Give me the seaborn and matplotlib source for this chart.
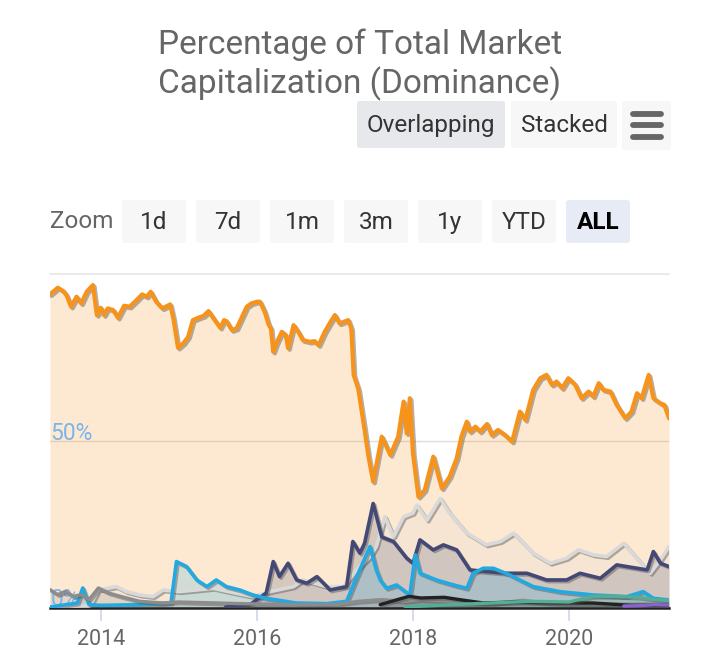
import matplotlib
matplotlib.use("Agg")
import matplotlib.pyplot as plt
import matplotlib.patheffects as pe
from matplotlib.patches import FancyBboxPatch
import seaborn as sns
import pandas as pd

# ---------------- data (decimal year, % dominance) ----------------
btc_year = [2013.35, 2013.45, 2013.52, 2013.56, 2013.62, 2013.69, 2013.75, 2013.82, 2013.90, 2013.95,
            2014.00, 2014.04, 2014.09, 2014.16, 2014.22, 2014.30, 2014.37, 2014.46, 2014.53, 2014.59,
            2014.64, 2014.71, 2014.79, 2014.89, 2014.93, 2014.99, 2015.06, 2015.12, 2015.18, 2015.25,
            2015.32, 2015.38, 2015.46, 2015.53, 2015.58, 2015.61, 2015.68, 2015.74, 2015.80, 2015.87,
            2015.93, 2016.00, 2016.04, 2016.10, 2016.15, 2016.18, 2016.21, 2016.25, 2016.32, 2016.37,
            2016.40, 2016.47, 2016.53, 2016.59, 2016.68, 2016.74, 2016.79, 2016.87, 2016.95, 2017.00,
            2017.06, 2017.17, 2017.21, 2017.24, 2017.30, 2017.38, 2017.43, 2017.49, 2017.60, 2017.71,
            2017.81, 2017.88, 2017.92, 2017.96, 2018.00, 2018.07, 2018.15, 2018.26, 2018.37, 2018.47,
            2018.56, 2018.62, 2018.69, 2018.73, 2018.80, 2018.86, 2018.95, 2019.01, 2019.09, 2019.18,
            2019.27, 2019.37, 2019.44, 2019.54, 2019.63, 2019.71, 2019.78, 2019.84, 2019.91, 2019.99,
            2020.08, 2020.16, 2020.25, 2020.31, 2020.38, 2020.44, 2020.53, 2020.61, 2020.72, 2020.80,
            2020.87, 2020.93, 2021.02, 2021.08, 2021.17, 2021.22, 2021.28]
btc_pct = [93.9, 95.9, 94.9, 93.7, 90.2, 93.2, 91.2, 94.7, 96.7, 87.7,
           89.9, 87.7, 89.7, 89.2, 86.9, 90.5, 90.2, 92.2, 93.9, 93.2,
           94.7, 91.7, 89.7, 90.9, 86.7, 77.9, 79.3, 81.2, 86.2, 86.9,
           87.5, 88.9, 86.2, 83.9, 86.2, 85.9, 83.2, 83.7, 86.7, 90.2,
           91.2, 91.7, 91.7, 88.7, 84.9, 83.7, 76.7, 79.3, 82.7, 81.7,
           77.8, 84.7, 82.7, 80.2, 79.7, 79.9, 78.7, 82.7, 85.9, 87.7,
           85.2, 86.2, 83.7, 69.8, 65.5, 53.3, 45.3, 37.8, 51.3, 45.8,
           51.3, 61.8, 52.3, 62.8, 46.3, 33.3, 35.3, 45.3, 35.8, 39.3,
           44.8, 51.3, 55.8, 52.8, 54.3, 52.8, 55.1, 51.8, 53.3, 51.8,
           49.8, 58.8, 56.3, 65.3, 68.8, 69.8, 66.8, 67.8, 65.8, 68.8,
           66.8, 62.8, 64.8, 63.3, 67.3, 65.3, 64.8, 60.8, 56.8, 58.8,
           64.3, 62.8, 69.8, 62.8, 61.3, 60.8, 56.8]

others_year = [2013.35, 2013.86, 2013.97, 2014.20, 2014.33, 2014.50, 2014.67, 2014.80, 2015.01, 2015.23,
               2015.44, 2015.70, 2015.95, 2016.17, 2016.47, 2016.59, 2016.89, 2017.11, 2017.28, 2017.45,
               2017.53, 2017.64, 2017.75, 2017.88, 2018.00, 2018.05, 2018.18, 2018.35, 2018.47, 2018.69,
               2018.94, 2019.12, 2019.29, 2019.54, 2019.76, 2019.97, 2020.12, 2020.31, 2020.48, 2020.70,
               2020.87, 2021.04, 2021.17, 2021.28]
others_pct = [0.5, 0.6, 5.4, 6.4, 4.9, 3.9, 3.4, 5.4, 4.9, 5.4,
              5.9, 4.6, 3.4, 4.9, 6.4, 8.4, 6.4, 6.4, 11.4, 15.4,
              18.4, 27.3, 21.3, 27.3, 28.4, 30.8, 26.3, 32.8, 28.4, 22.4,
              18.9, 19.9, 22.4, 16.4, 13.4, 14.9, 17.4, 15.9, 15.4, 19.4,
              14.9, 10.4, 14.4, 18.4]

eth_year = [2015.60, 2015.90, 2016.12, 2016.21, 2016.29, 2016.40, 2016.51, 2016.64, 2016.77, 2016.94,
            2017.15, 2017.23, 2017.32, 2017.38, 2017.49, 2017.60, 2017.75, 2017.92, 2018.00, 2018.09,
            2018.26, 2018.39, 2018.56, 2018.73, 2018.94, 2019.20, 2019.46, 2019.71, 2019.97, 2020.14,
            2020.40, 2020.61, 2020.87, 2021.00, 2021.08, 2021.17, 2021.28]
eth_pct = [0.3, 0.8, 4.5, 13.9, 9.4, 13.4, 8.4, 7.4, 9.4, 5.4,
           6.4, 19.9, 16.4, 19.4, 31.3, 21.3, 19.9, 14.9, 13.4, 20.4,
           17.4, 18.9, 17.4, 11.4, 10.9, 10.4, 10.4, 8.4, 8.4, 10.4,
           8.9, 12.9, 11.9, 11.4, 16.9, 13.4, 12.4]

xrp_year = [2013.35, 2013.70, 2013.77, 2013.85, 2014.00, 2014.50, 2014.90, 2014.97, 2015.10, 2015.23,
            2015.36, 2015.48, 2015.61, 2015.78, 2015.95, 2016.12, 2016.50, 2016.90, 2017.15, 2017.28,
            2017.45, 2017.53, 2017.58, 2017.66, 2017.79, 2017.96, 2018.03, 2018.09, 2018.30, 2018.52,
            2018.69, 2018.77, 2018.90, 2019.03, 2019.24, 2019.54, 2019.88, 2020.31, 2020.74, 2020.95,
            2021.08, 2021.28]
xrp_pct = [0.3, 1.5, 6.0, 1.0, 0.8, 1.0, 1.5, 13.9, 12.4, 8.4,
           6.4, 8.4, 6.4, 5.4, 3.9, 2.9, 1.5, 1.3, 2.0, 9.4,
           18.4, 11.4, 8.4, 5.9, 6.9, 3.9, 15.9, 10.4, 8.4, 6.9,
           5.9, 10.4, 11.9, 11.9, 9.9, 6.4, 4.9, 3.9, 3.4, 4.9,
           2.9, 2.4]

ltc_year = [2013.35, 2013.45, 2013.55, 2013.65, 2013.75, 2013.85, 2013.97, 2014.10, 2014.25, 2014.50,
            2014.80, 2015.00, 2015.50, 2016.00, 2016.50, 2017.00, 2017.30, 2017.60, 2017.90, 2018.10,
            2018.50, 2019.00, 2019.40, 2019.70, 2020.00, 2020.50, 2021.00, 2021.28]
ltc_pct = [5.5, 4.0, 5.0, 3.5, 4.0, 2.5, 6.0, 4.5, 3.5, 2.0,
           1.5, 1.8, 1.5, 1.2, 1.0, 1.0, 2.0, 2.5, 2.0, 2.5,
           2.0, 1.2, 2.3, 1.5, 1.3, 1.1, 1.2, 1.0]

bch_year = [2017.58, 2017.80, 2017.95, 2018.10, 2018.40, 2018.60, 2018.90, 2019.30, 2019.80, 2020.30,
            2020.80, 2021.28]
bch_pct = [1.0, 2.5, 3.5, 3.0, 3.2, 2.5, 1.5, 1.8, 1.5, 1.5, 0.8, 0.9]

usdt_year = [2017.90, 2018.50, 2019.00, 2019.50, 2020.00, 2020.30, 2020.60, 2020.90, 2021.10, 2021.28]
usdt_pct = [0.3, 1.0, 1.5, 2.0, 1.8, 3.5, 3.5, 3.2, 2.5, 2.2]

dot_year = [2020.70, 2020.90, 2021.10, 2021.28]
dot_pct = [0.6, 0.7, 1.0, 0.9]

x_ticks = [2014, 2016, 2018, 2020]
x_tick_labels = ["2014", "2016", "2018", "2020"]
zoom_buttons = ["1d", "7d", "1m", "3m", "1y", "YTD", "ALL"]
mode_buttons = ["Overlapping", "Stacked"]

series = [
    ("Bitcoin", btc_year, btc_pct, "#f7931a", 3.0),
    ("Others", others_year, others_pct, "#d9d9d9", 2.6),
    ("Ethereum", eth_year, eth_pct, "#434875", 2.6),
    ("XRP", xrp_year, xrp_pct, "#23a9e1", 2.6),
    ("Litecoin", ltc_year, ltc_pct, "#8c8c8c", 2.4),
    ("Bitcoin Cash", bch_year, bch_pct, "#222222", 2.4),
    ("Tether", usdt_year, usdt_pct, "#50af95", 2.4),
    ("Polkadot", dot_year, dot_pct, "#8a63d2", 2.4),
]

# ---------------- figure ----------------
sns.set_theme(style="white")
plt.rcParams["font.family"] = ["Roboto", "DejaVu Sans"]

W, H = 720, 672
fig = plt.figure(figsize=(W / 100, H / 100), dpi=100)
fig.patch.set_facecolor("white")


def fx(x):
    return x / W


def fy(y):
    return 1 - y / H


ax = fig.add_axes([fx(50), fy(608), fx(669) - fx(50), fy(274) - fy(608)])
ax.set_facecolor("white")

for name, yr, pc, col, lw in series:
    df = pd.DataFrame({"year": yr, "pct": pc})
    ax.fill_between(df["year"], df["pct"], 0, color=col, alpha=0.2, linewidth=0, zorder=2)
    sns.lineplot(data=df, x="year", y="pct", ax=ax, color=col, linewidth=lw,
                 estimator=None, sort=True, legend=False, zorder=3,
                 path_effects=[pe.SimpleLineShadow(offset=(1.2, -1.2), shadow_color="#555555", alpha=0.45),
                               pe.Normal()])

ax.set_xlim(btc_year[0], btc_year[-1])
ax.set_ylim(0, 100)
ax.set_xlabel("")
ax.set_ylabel("")
ax.set_yticks([])
ax.set_xticks(x_ticks)
ax.set_xticklabels(x_tick_labels, color="#666666", fontsize=15.5)
ax.tick_params(axis="x", length=9, width=1.2, color="#ccd6eb", pad=6, direction="out", bottom=True)
for s in ["top", "left", "right"]:
    ax.spines[s].set_visible(False)
ax.spines["bottom"].set_color("#222222")
ax.spines["bottom"].set_linewidth(1.8)

# grid lines
ax.axhline(50, color="#e0dcd6", linewidth=1, zorder=1.5)
ax.axhline(100, color="#e6e6e6", linewidth=1.2, zorder=1.5, clip_on=False)

# y labels inside plot
ax.text(btc_year[0] + 0.005, 50.2, "50%", color="#7cb5ec", fontsize=16.5, va="baseline", ha="left", zorder=2.5)
ax.text(btc_year[0] + 0.005, 0.5, "0%", color="#7cb5ec", fontsize=16.5, va="baseline", ha="left", zorder=2.5)

# title
fig.text(0.5, fy(65), "Percentage of Total Market\nCapitalization (Dominance)", ha="center", va="center",
         fontsize=24, color="#666666", linespacing=1.2)


def button(x0, y0, x1, y1, fc, label=None, bold=False, tc="#333333", fs=17.5):
    p = FancyBboxPatch((fx(x0), fy(y1)), fx(x1) - fx(x0), fy(y0) - fy(y1),
                       boxstyle="round,pad=0,rounding_size=0.004", transform=fig.transFigure,
                       facecolor=fc, edgecolor="none")
    fig.patches.append(p)
    if label is not None:
        fig.text(fx((x0 + x1) / 2), fy((y0 + y1) / 2 + 1), label, ha="center", va="center",
                 fontsize=fs, color=tc, fontweight="bold" if bold else "normal")


# mode buttons
button(357, 101, 505, 148, "#e6e8ec", mode_buttons[0])
button(511, 101, 617, 148, "#f7f7f7", mode_buttons[1])
button(622, 101, 671, 150, "#f7f7f7")
for yb in [114, 125, 137]:
    fig.lines.append(plt.Line2D([fx(633), fx(661)], [fy(yb), fy(yb)], transform=fig.transFigure,
                                color="#666666", linewidth=4.2, solid_capstyle="round"))

# zoom buttons
fig.text(fx(50), fy(222), "Zoom", ha="left", va="center", fontsize=17.5, color="#666666")
zx = [122, 196, 270, 344, 418, 492, 566]
for lab, x0 in zip(zoom_buttons, zx):
    sel = lab == "ALL"
    button(x0, 200, x0 + 64, 243, "#e6ebf5" if sel else "#f7f7f7", lab, bold=sel,
           tc="#000000" if sel else "#333333")

fig.savefig("out.png", dpi=100, facecolor="white")
